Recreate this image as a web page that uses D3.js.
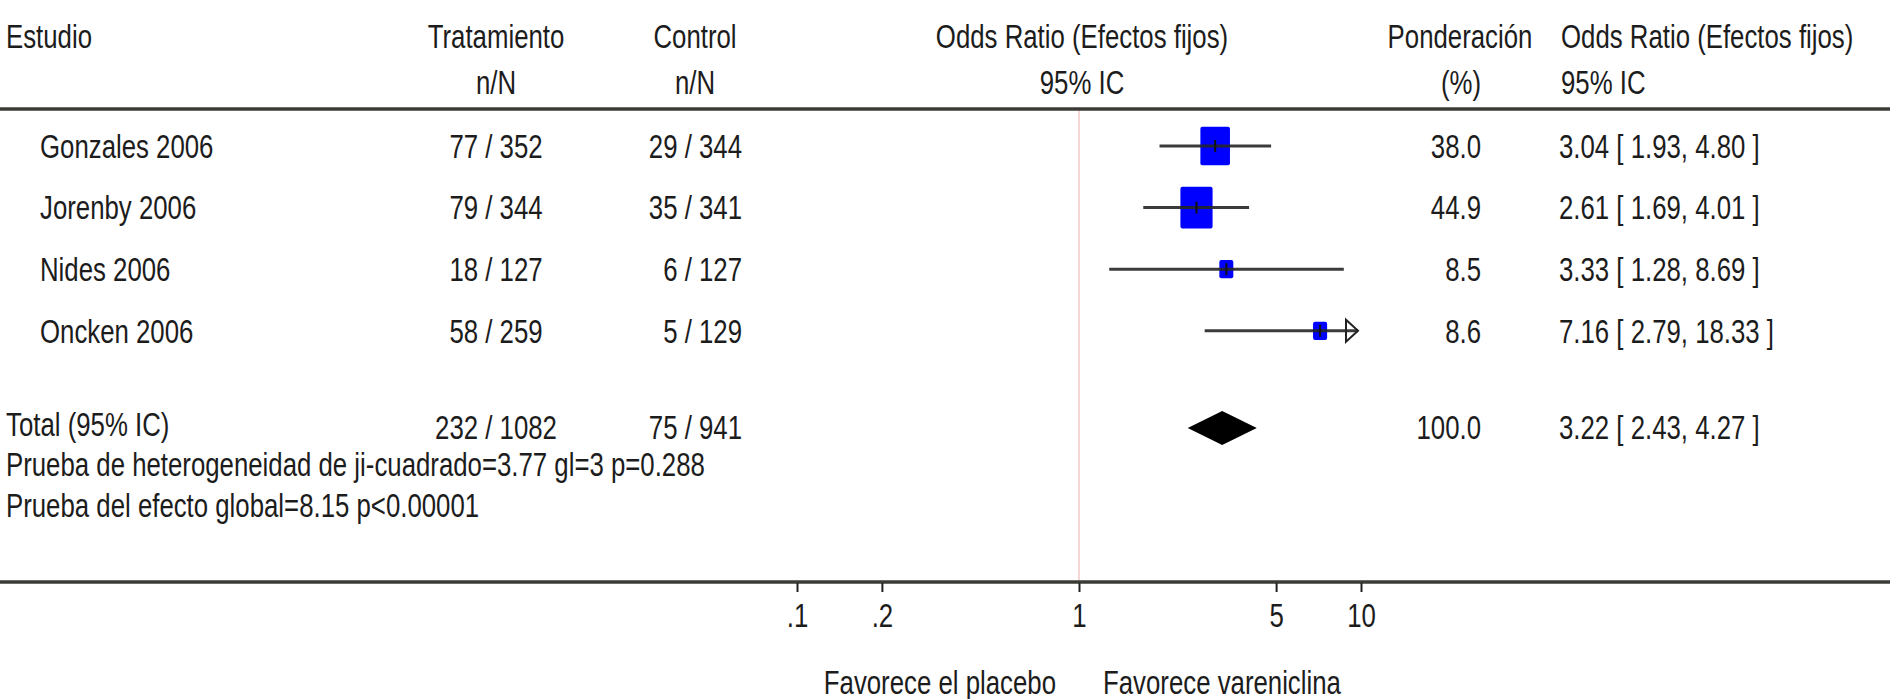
<!DOCTYPE html>
<html>
    <head>
        <title>Vareniclina vs placebo - forest plot</title>
        <meta charset="utf-8">
        <script src="https://d3js.org/d3.v7.min.js"></script>
        <style>
            body { margin: 0; background-color: #fff; }
            svg { display: block; background-color: #fff; }
            text { font-family: "Liberation Sans", Arial, sans-serif; fill: #1c1c1c; }
        </style>
    </head>
    <body>
        <svg width="1890" height="699"></svg>

        <script>
            // datos de los estudios
            var studies = ['Gonzales 2006', 'Jorenby 2006', 'Nides 2006', 'Oncken 2006'];
            var treatN = ['77 / 352', '79 / 344', '18 / 127', '58 / 259'];
            var controlN = ['29 / 344', '35 / 341', '6 / 127', '5 / 129'];
            var weights = [38.0, 44.9, 8.5, 8.6];
            var oddsRatio = [3.04, 2.61, 3.33, 7.16];
            var ciLow = [1.93, 1.69, 1.28, 2.79];
            var ciHigh = [4.80, 4.01, 8.69, 18.33];

            // total
            var totalLabel = 'Total (95% IC)';
            var totalTreat = '232 / 1082';
            var totalControl = '75 / 941';
            var totalWeight = 100.0;
            var totalOR = [3.22, 2.43, 4.27];

            var notes = [
                'Prueba de heterogeneidad de ji-cuadrado=3.77 gl=3 p=0.288',
                'Prueba del efecto global=8.15 p<0.00001'
            ];

            var tickValues = [0.1, 0.2, 1, 5, 10];
            var tickLabels = ['.1', '.2', '1', '5', '10'];

            var root = d3.select('svg');
            var W = +root.attr('width');

            var FS = 25.8, SY = 1.26;   // el texto original esta estirado en vertical
            var rowY = d3.scaleLinear().domain([0, 1]).range([146, 207.6]);
            var TOP = 109, AXIS = 582, TOTAL_Y = 428;

            var x = d3.scaleLog()
                .domain([0.1, 10])
                .range([797, 1361]);

            function fmt(v) { return v.toFixed(2); }

            // texto con escala vertical
            function txt(g, px, py, s, anchor) {
                return g.append('text')
                    .attr('transform', 'translate(' + px + ',' + py + ') scale(1,' + SY + ')')
                    .attr('dy', '0.36em')
                    .attr('text-anchor', anchor || 'start')
                    .style('font-size', FS + 'px')
                    .text(s);
            }

            // cabecera
            var head = root.append('g');
            txt(head, 6, 36, 'Estudio');
            txt(head, 496, 36, 'Tratamiento', 'middle');
            txt(head, 496, 82, 'n/N', 'middle');
            txt(head, 695, 36, 'Control', 'middle');
            txt(head, 695, 82, 'n/N', 'middle');
            txt(head, 1082, 36, 'Odds Ratio (Efectos fijos)', 'middle');
            txt(head, 1082, 82, '95% IC', 'middle');
            txt(head, 1460, 36, 'Ponderación', 'middle');
            txt(head, 1461, 82, '(%)', 'middle');
            txt(head, 1561, 36, 'Odds Ratio (Efectos fijos)');
            txt(head, 1561, 82, '95% IC');

            // linea de referencia en OR = 1
            root.append('line')
                .attr('x1', x(1)).attr('x2', x(1))
                .attr('y1', TOP).attr('y2', AXIS)
                .attr('stroke', '#efcaca')
                .attr('stroke-width', 1.5);

            // lineas horizontales
            [TOP, AXIS].forEach(function (yy) {
                root.append('line')
                    .attr('x1', 0).attr('x2', W)
                    .attr('y1', yy).attr('y2', yy)
                    .attr('stroke', '#3b3b36')
                    .attr('stroke-width', 3.5);
            });

            var data = studies.map(function (s, i) {
                return { name: s, t: treatN[i], c: controlN[i], w: weights[i],
                         or: oddsRatio[i], lo: ciLow[i], hi: ciHigh[i] };
            });

            var rows = root.append('g').selectAll('g').data(data).enter()
                .append('g')
                .attr('class', 'row');

            rows.each(function (d, i) {
                var g = d3.select(this);
                var cy = rowY(i);
                txt(g, 40, cy, d.name);
                txt(g, 496, cy, d.t, 'middle');
                txt(g, 742, cy, d.c, 'end');
                txt(g, 1481, cy, d.w.toFixed(1), 'end');
                txt(g, 1559, cy, fmt(d.or) + ' [ ' + fmt(d.lo) + ', ' + fmt(d.hi) + ' ]');

                // cuadrado proporcional al peso
                var bw = 4.8 * Math.sqrt(d.w), bh = bw * 1.3;
                g.append('rect')
                    .attr('x', x(d.or) - bw / 2)
                    .attr('y', cy - bh / 2)
                    .attr('width', bw)
                    .attr('height', bh)
                    .attr('rx', 2)
                    .attr('fill', '#0000ff');

                var clipped = d.hi > x.domain()[1];
                var xr = clipped ? x(x.domain()[1]) - 3 : x(d.hi);
                g.append('line')
                    .attr('x1', x(d.lo)).attr('x2', xr)
                    .attr('y1', cy).attr('y2', cy)
                    .attr('stroke', '#262626')
                    .attr('stroke-opacity', 0.9)
                    .attr('stroke-width', 3);

                g.append('line')
                    .attr('x1', x(d.or)).attr('x2', x(d.or))
                    .attr('y1', cy - 6).attr('y2', cy + 6)
                    .attr('stroke', '#111')
                    .attr('stroke-width', 2);

                if (clipped) {
                    // flecha: el IC sale de la escala
                    g.append('path')
                        .attr('d', 'M' + (xr - 12) + ',' + (cy - 11) + 'L' + xr + ',' + cy +
                                   'L' + (xr - 12) + ',' + (cy + 11) + 'Z')
                        .attr('fill', 'none')
                        .attr('stroke', '#222')
                        .attr('stroke-width', 2);
                }
            });

            // fila total
            var tot = root.append('g');
            txt(tot, 6, 424, totalLabel);
            txt(tot, 496, 427, totalTreat, 'middle');
            txt(tot, 742, 427, totalControl, 'end');
            txt(tot, 1481, 427, totalWeight.toFixed(1), 'end');
            txt(tot, 1559, 427, fmt(totalOR[0]) + ' [ ' + fmt(totalOR[1]) + ', ' + fmt(totalOR[2]) + ' ]');

            var dh = 17;
            tot.append('path')
                .attr('d', 'M' + x(totalOR[1]) + ',' + TOTAL_Y +
                           'L' + x(totalOR[0]) + ',' + (TOTAL_Y - dh) +
                           'L' + x(totalOR[2]) + ',' + TOTAL_Y +
                           'L' + x(totalOR[0]) + ',' + (TOTAL_Y + dh) + 'Z')
                .attr('fill', '#000');

            txt(tot, 6, 464, notes[0]);
            txt(tot, 6, 505, notes[1]);

            // eje inferior
            var xAxis = d3.axisBottom(x)
                .tickValues(tickValues)
                .tickFormat(function (d, i) { return tickLabels[i]; })
                .tickSize(9);

            var ax = root.append('g')
                .attr('transform', 'translate(0,' + (AXIS + 1) + ')')
                .call(xAxis);
            ax.select('.domain').remove();
            ax.selectAll('.tick line').attr('stroke', '#222').attr('stroke-width', 2);
            ax.selectAll('.tick text')
                .attr('y', 0)
                .attr('dy', '0.36em')
                .attr('transform', 'translate(0,32) scale(1,' + SY + ')')
                .style('font-size', FS + 'px')
                .attr('fill', '#1c1c1c');

            var foot = root.append('g');
            txt(foot, 1056, 682, 'Favorece el placebo', 'end');
            txt(foot, 1103, 682, 'Favorece vareniclina');
        </script>
    </body>
</html>
